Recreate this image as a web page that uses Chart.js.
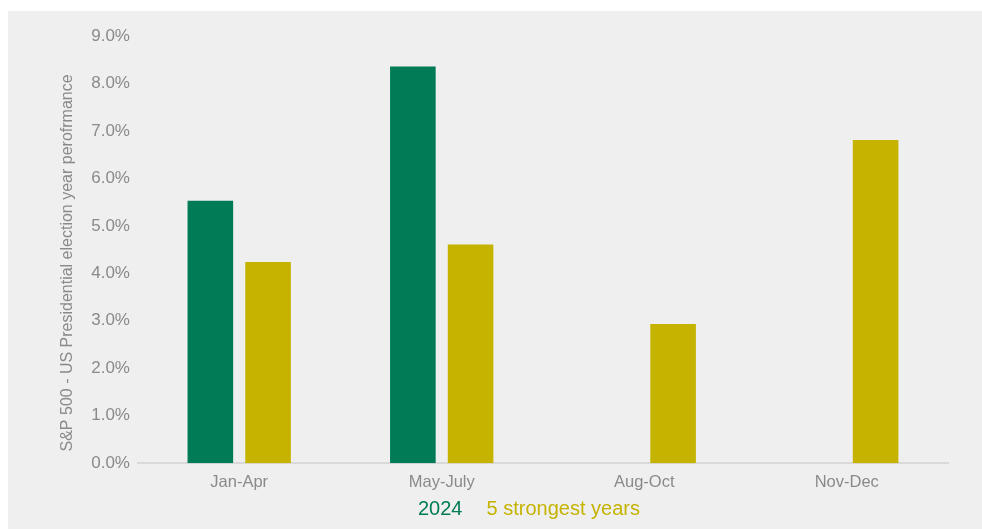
<!DOCTYPE html>
<html>
<head>
<meta charset="utf-8">
<script src="https://cdn.jsdelivr.net/npm/chart.js@4/dist/chart.umd.min.js"></script>
<style>
  html, body { margin: 0; padding: 0; background: #fff; }
  #wrap { position: absolute; left: 8px; top: 11px; width: 974px; height: 518px; background: #efefef; }
  #legend { position: absolute; left: 410px; top: 485px; font-family: 'Liberation Sans', Arial, sans-serif; font-size: 20px; line-height: 24px; white-space: nowrap; }
  #legend span + span { margin-left: 24px; }
</style>
</head>
<body>
<div id="wrap">
  <canvas id="chart"></canvas>
  <div id="legend"></div>
</div>
<script>
const periods = ['Jan-Apr', 'May-July', 'Aug-Oct', 'Nov-Dec'];
const year2024 = [5.53, 8.36, null, null];
const strongestYears = [4.24, 4.61, 2.93, 6.81];
const seriesNames = ['2024', '5 strongest years'];
const colors = ['#007b55', '#c5b300'];
const font = 'Liberation Sans, Arial, sans-serif';

// legend drawn as plain text, coloured like the series
document.getElementById('legend').innerHTML = seriesNames
    .map((name, i) => `<span style="color:${colors[i]}">${name}</span>`).join('');

const ctx = document.getElementById('chart').getContext('2d');
new Chart(ctx, {
    type: 'bar',
    data: {
        labels: periods,
        datasets: [
            { label: seriesNames[0], data: year2024, backgroundColor: colors[0] },
            { label: seriesNames[1], data: strongestYears, backgroundColor: colors[1] }
        ]
    },
    options: {
        responsive: true,
        maintainAspectRatio: false,
        animation: false,
        categoryPercentage: 0.57,
        barPercentage: 0.79,
        layout: { padding: { left: 50, right: 34, top: 25, bottom: 36 } },
        plugins: {
            tooltip: { enabled: false },
            legend: { display: false }
        },
        scales: {
            x: {
                grid: { display: false },
                border: { color: '#d9d9d9', width: 2 },
                ticks: { color: '#8a8a8a', font: { family: font, size: 16.5 }, padding: 1 }
            },
            y: {
                min: 0,
                max: 9,
                grid: { display: false },
                border: { display: false },
                ticks: {
                    stepSize: 1,
                    color: '#8a8a8a',
                    padding: 0,
                    font: { family: font, size: 17 },
                    callback: (v) => v.toFixed(1) + '%'
                },
                title: {
                    display: true,
                    text: 'S&P 500 - US Presidential election year perofrmance      ',
                    color: '#8a8a8a',
                    font: { family: font, size: 16 },
                    padding: { top: 0, bottom: 14 }
                }
            }
        }
    }
});
</script>
</body>
</html>
